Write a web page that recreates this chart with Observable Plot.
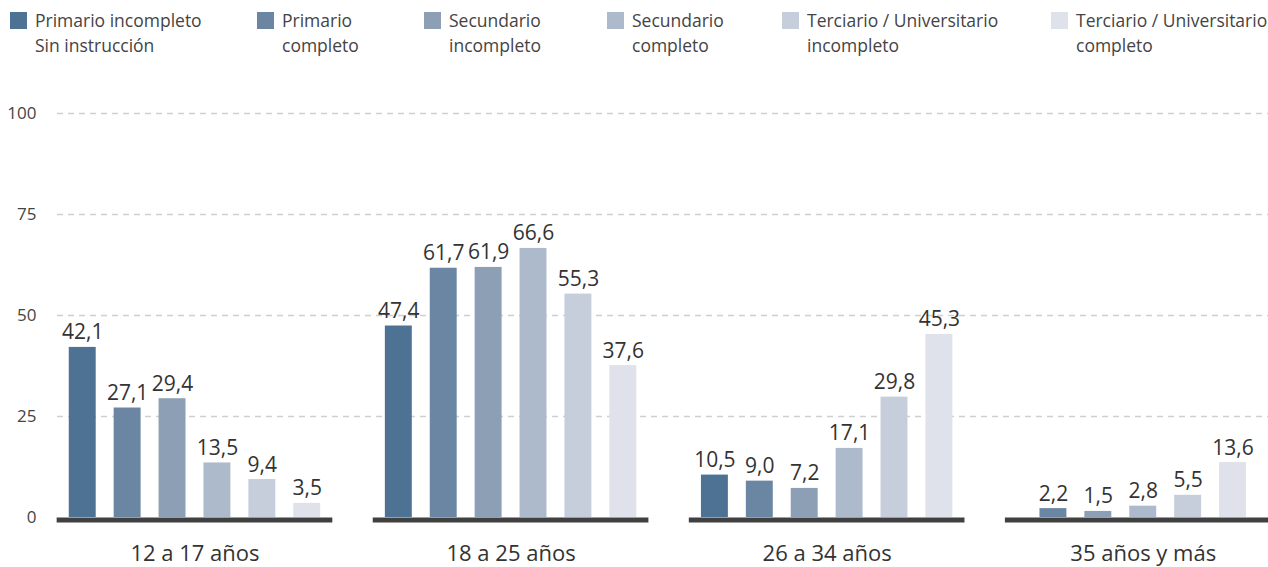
<!DOCTYPE html>
<html>
<head>
<meta charset="utf-8">
<script src="https://cdn.jsdelivr.net/npm/d3@7"></script>
<script src="https://cdn.jsdelivr.net/npm/@observablehq/plot@0.6"></script>
<style>
  html, body { margin: 0; padding: 0; background: #fff; overflow: hidden; }
  #wrap { position: relative; width: 1268px; height: 567px; font-family: "Open Sans", Lato, sans-serif; }
  #legend { position: absolute; left: 0; top: 0; width: 1268px; height: 60px; }
  .item { position: absolute; top: 8px; display: flex; align-items: flex-start; }
  .sw { width: 17px; height: 17px; margin-top: 4px; margin-right: 8px; flex: none; }
  .lbl { font-size: 17.5px; line-height: 25px; color: #444; white-space: pre; }
  #chart { position: absolute; left: 0; top: 0; }
</style>
</head>
<body>
<div id="wrap">
  <div id="chart"></div>
  <div id="legend"></div>
</div>
<script>
// ---- data ----
const groups = ["12 a 17 años", "18 a 25 años", "26 a 34 años", "35 años y más"];
const series = [
  "Primario incompleto\nSin instrucción",
  "Primario\ncompleto",
  "Secundario\nincompleto",
  "Secundario\ncompleto",
  "Terciario / Universitario\nincompleto",
  "Terciario / Universitario\ncompleto"
];
const colors = ["#4e7293", "#6a86a3", "#8c9fb4", "#adbacb", "#c7cedb", "#dfe2ea"];
const values12a17 = [42.1, 27.1, 29.4, 13.5, 9.4, 3.5];
const values18a25 = [47.4, 61.7, 61.9, 66.6, 55.3, 37.6];
const values26a34 = [10.5, 9.0, 7.2, 17.1, 29.8, 45.3];
const values35ymas = [null, 2.2, 1.5, 2.8, 5.5, 13.6];
const yTicks = [0, 25, 50, 75, 100];
const legendLeft = [10, 257, 424, 607, 782, 1051];

// ---- layout (in bar-slot units) ----
const GROUP_STEP = 7.04;
const BAR_HALF = 0.3;
const BASE_HALF = 3.07;

const allValues = [values12a17, values18a25, values26a34, values35ymas];
const rows = [];
allValues.forEach((vals, g) => {
  const present = vals.map((v, i) => ({v, i})).filter(d => d.v != null);
  const n = present.length;
  present.forEach((d, k) => {
    const x = g * GROUP_STEP + (k - (n - 1) / 2);
    rows.push({group: groups[g], serie: series[d.i], value: d.v, x1: x - BAR_HALF, x2: x + BAR_HALF, x});
  });
});
const groupRows = groups.map((name, g) => ({name, c: g * GROUP_STEP, x1: g * GROUP_STEP - BASE_HALF, x2: g * GROUP_STEP + BASE_HALF}));

const fmt = v => v.toFixed(1).replace(".", ",");

const chart = Plot.plot({
  width: 1268,
  height: 567,
  marginLeft: 57,
  marginRight: 0,
  marginTop: 113,
  marginBottom: 50,
  style: {fontFamily: "'Open Sans', Lato, sans-serif", background: "transparent", overflow: "visible"},
  x: {domain: [-3.062, 23.91], axis: null},
  y: {domain: [0, 100], ticks: yTicks, tickSize: 0, tickPadding: 21, label: null, tickFormat: d => d},
  color: {domain: series, range: colors},
  marks: [
    Plot.ruleY(yTicks.slice(1), {stroke: "#cfcfcf", strokeWidth: 1.5, strokeDasharray: "6,5"}),
    Plot.rectY(rows, {x1: "x1", x2: "x2", y1: 0, y2: "value", fill: "serie"}),
    Plot.text(rows, {x: "x", y: "value", text: d => fmt(d.value), lineAnchor: "bottom", dy: -8, fontSize: 21, fill: "#333"}),
    Plot.ruleY(groupRows, {x1: "x1", x2: "x2", y: 0, stroke: "#404040", strokeWidth: 5, dy: 2.5}),
    Plot.text(groupRows, {x: "c", y: 0, text: "name", dy: 36, fontSize: 22, fill: "#333"})
  ]
});
const yAxis = chart.querySelector("g[aria-label='y-axis tick label']") || chart.querySelector("g[aria-label='y-axis']");
if (yAxis) { yAxis.setAttribute("font-size", "17"); yAxis.setAttribute("fill", "#444"); }
document.getElementById("chart").appendChild(chart);

// ---- legend ----
const legend = document.getElementById("legend");
series.forEach((s, i) => {
  const item = document.createElement("div");
  item.className = "item";
  item.style.left = legendLeft[i] + "px";
  const sw = document.createElement("div");
  sw.className = "sw";
  sw.style.background = colors[i];
  const lbl = document.createElement("div");
  lbl.className = "lbl";
  lbl.textContent = s;
  item.appendChild(sw); item.appendChild(lbl);
  legend.appendChild(item);
});
</script>
</body>
</html>
